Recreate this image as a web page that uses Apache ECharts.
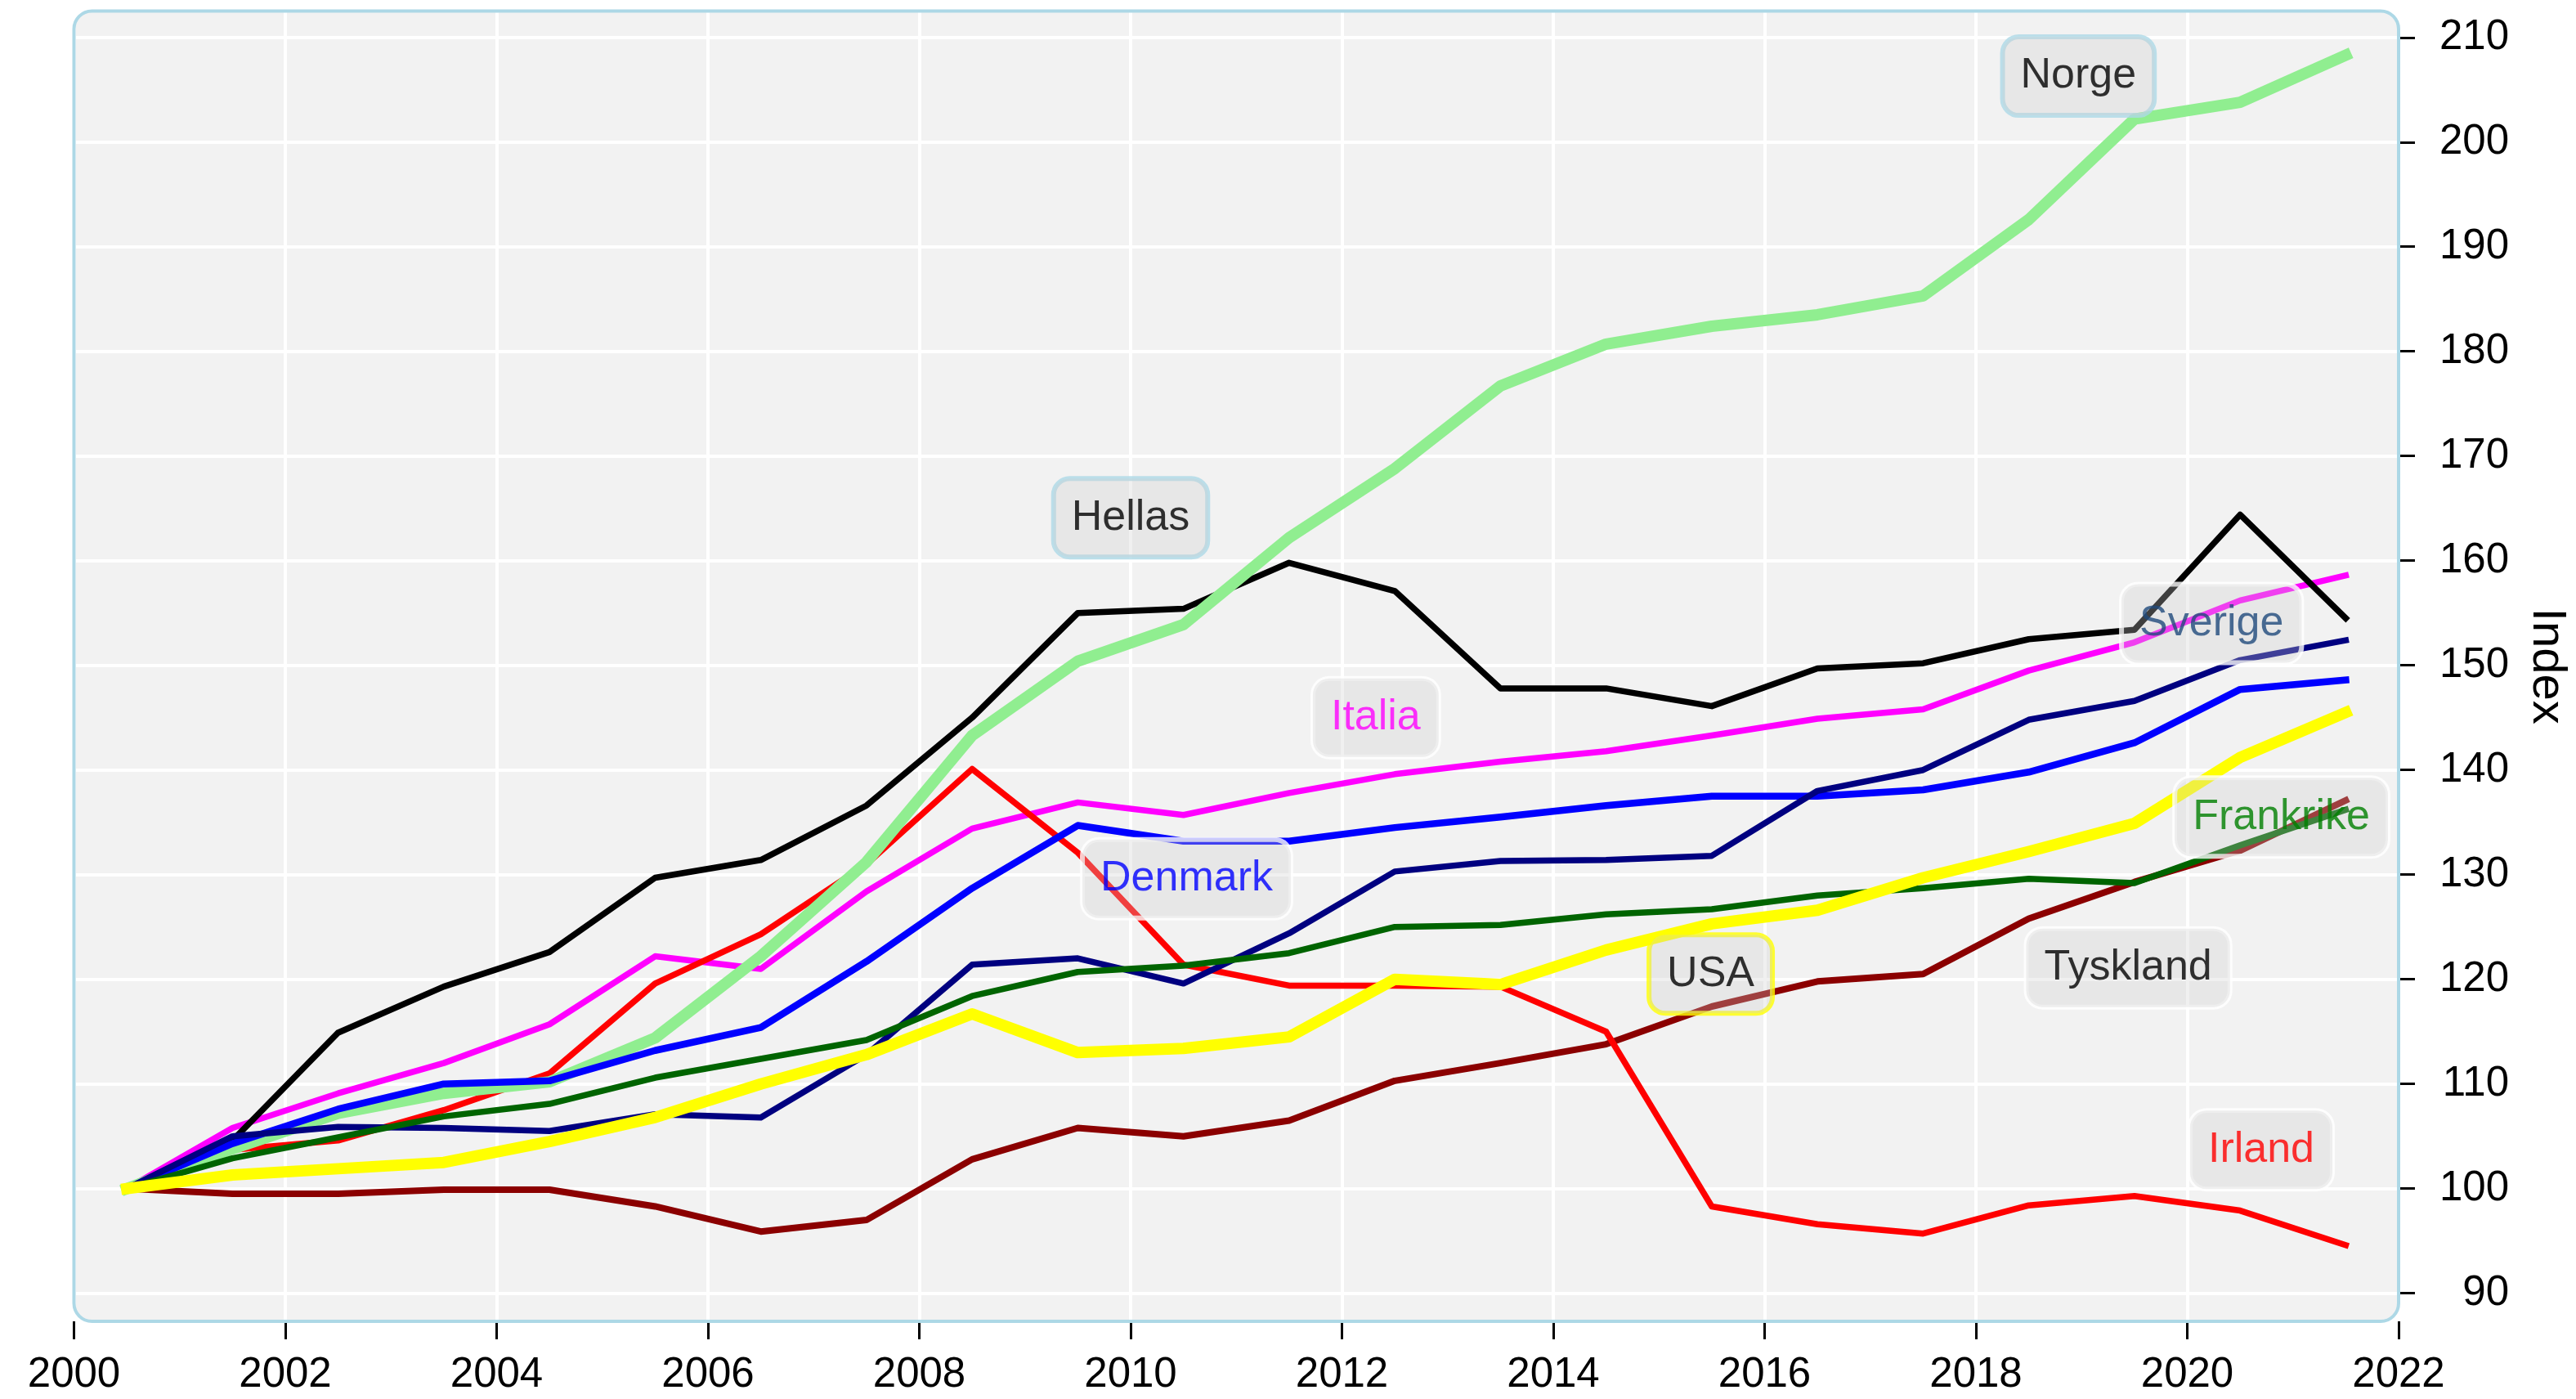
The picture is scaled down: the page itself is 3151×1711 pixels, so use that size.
<!DOCTYPE html>
<html><head><meta charset="utf-8">
<script src="https://cdn.jsdelivr.net/npm/echarts@6/dist/echarts.min.js"></script>
<style>html,body{margin:0;padding:0;background:#fff}#c{width:3151px;height:1711px}</style>
</head><body><div id="c"></div>
<script>
// ---- data ----
const years = [2000.5, 2001.5, 2002.5, 2003.5, 2004.5, 2005.5, 2006.5, 2007.5, 2008.5, 2009.5, 2010.5,
               2011.5, 2012.5, 2013.5, 2014.5, 2015.5, 2016.5, 2017.5, 2018.5, 2019.5, 2020.5, 2021.5];
const tyskland  = [100, 99.5, 99.5, 99.9, 99.9, 98.3, 95.9, 97.0, 102.8, 105.8, 105.0, 106.5, 110.3, 112.0, 113.8, 117.4, 119.8, 120.5, 125.8, 129.3, 132.3, 137.1];
const italia    = [100, 105.8, 109.1, 112.0, 115.7, 122.2, 121.0, 128.4, 134.4, 136.9, 135.7, 137.8, 139.6, 140.8, 141.8, 143.3, 144.9, 145.8, 149.5, 152.2, 156.2, 158.6];
const hellas    = [100, 104.6, 114.9, 119.3, 122.6, 129.7, 131.4, 136.6, 145.0, 155.0, 155.4, 159.8, 157.1, 147.8, 147.8, 146.1, 149.7, 150.2, 152.5, 153.4, 164.4, 154.5];
const irland    = [100, 103.7, 104.6, 107.5, 111.0, 119.6, 124.3, 131.0, 140.1, 132.1, 121.4, 119.4, 119.4, 119.3, 115.0, 98.3, 96.6, 95.7, 98.4, 99.3, 97.9, 94.6];
const norge     = [100, 103.8, 107.2, 109.1, 110.2, 114.4, 122.2, 131.2, 143.3, 150.4, 153.9, 162.2, 168.8, 176.7, 180.7, 182.4, 183.5, 185.3, 192.6, 202.2, 203.8, 208.3];
const denmark   = [100, 104.3, 107.6, 110.0, 110.3, 113.2, 115.4, 121.7, 128.7, 134.7, 133.2, 133.2, 134.5, 135.5, 136.6, 137.5, 137.5, 138.1, 139.8, 142.6, 147.7, 148.6];
const sverige   = [100, 105.0, 105.9, 105.8, 105.5, 107.1, 106.8, 112.8, 121.4, 122.0, 119.6, 124.4, 130.3, 131.3, 131.4, 131.8, 138.0, 140.0, 144.8, 146.6, 150.5, 152.4];
const frankrike = [100, 102.9, 104.9, 106.9, 108.1, 110.6, 112.4, 114.2, 118.4, 120.7, 121.3, 122.5, 125.0, 125.2, 126.2, 126.7, 128.0, 128.7, 129.6, 129.2, 132.8, 136.2];
const usa       = [100, 101.3, 101.9, 102.5, 104.5, 106.8, 110.0, 112.8, 116.7, 113.0, 113.4, 114.5, 120.0, 119.5, 122.8, 125.3, 126.6, 129.7, 132.2, 134.9, 141.2, 145.5];

const xTicks = [2000, 2002, 2004, 2006, 2008, 2010, 2012, 2014, 2016, 2018, 2020, 2022];
const yTicks = [90, 100, 110, 120, 130, 140, 150, 160, 170, 180, 190, 200, 210];

const labelNames = ['Norge', 'Hellas', 'Italia', 'Denmark', 'Sverige', 'Frankrike', 'USA', 'Tyskland', 'Irland'];
const labelX = [2018.97, 2010.0, 2012.32, 2010.53, 2020.23, 2020.89, 2015.49, 2019.44, 2020.70];
const labelY = [206.3, 164.1, 145.0, 129.6, 154.0, 135.5, 120.5, 121.1, 103.7];

// ---- styles ----
const FONT = '"Liberation Sans", Arial, Helvetica, sans-serif';
const lineDefs = [
  { name: 'Tyskland',  data: tyskland,  color: '#8b0000', width: 8 },
  { name: 'Italia',    data: italia,    color: '#ff00ff', width: 7.5 },
  { name: 'Hellas',    data: hellas,    color: '#000000', width: 7.5 },
  { name: 'Irland',    data: irland,    color: '#ff0000', width: 7.5 },
  { name: 'Norge',     data: norge,     color: '#90ee90', width: 14 },
  { name: 'Denmark',   data: denmark,   color: '#0000ff', width: 8.5 },
  { name: 'Sverige',   data: sverige,   color: '#000080', width: 7.5 },
  { name: 'Frankrike', data: frankrike, color: '#006400', width: 7.5 },
  { name: 'USA',       data: usa,       color: '#ffff00', width: 14 }
];
const labelStyle = {
  Norge:     { color: '#000000', border: '#add8e6' },
  Hellas:    { color: '#000000', border: '#add8e6' },
  Italia:    { color: '#ff00ff', border: '#ffffff' },
  Denmark:   { color: '#0000ff', border: '#ffffff' },
  Sverige:   { color: '#1f4a7c', border: '#ffffff' },
  Frankrike: { color: '#008000', border: '#ffffff' },
  USA:       { color: '#000000', border: '#ffff00' },
  Tyskland:  { color: '#000000', border: '#ffffff' },
  Irland:    { color: '#ff0000', border: '#ffffff' }
};

const G = { left: 90.5, top: 13.5, right: 217, bottom: 95 };
const W = 3151, H = 1711;
const gw = W - G.left - G.right, gh = H - G.top - G.bottom;

const chart = echarts.init(document.getElementById('c'), null, { renderer: 'canvas' });

const series = lineDefs.map(d => ({
  type: 'line',
  name: d.name,
  data: years.map((x, i) => [x, d.data[i]]),
  showSymbol: false,
  symbol: 'none',
  lineStyle: { color: d.color, width: d.width, join: 'round', cap: 'square' },
  itemStyle: { color: d.color },
  z: 3,
  silent: true
}));

series.push({
  type: 'scatter',
  z: 20,
  symbol: 'circle',
  symbolSize: 1,
  itemStyle: { color: 'rgba(0,0,0,0)' },
  silent: true,
  data: labelNames.map((n, i) => ({
    name: n,
    value: [labelX[i], labelY[i]],
    label: { color: labelStyle[n].color, borderColor: labelStyle[n].border }
  })),
  label: {
    show: true,
    position: 'inside',
    formatter: '{b}',
    fontFamily: FONT,
    fontSize: 52,
    backgroundColor: 'rgba(205,205,205,0.38)',
    borderWidth: 3,
    borderRadius: 20,
    padding: [22, 22, 22, 22]
  }
});

chart.setOption({
  animation: false,
  backgroundColor: '#ffffff',
  textStyle: { fontFamily: FONT },
  grid: { left: G.left, top: G.top, right: G.right, bottom: G.bottom, show: false, containLabel: false, outerBoundsMode: 'none' },
  graphic: [
    { type: 'rect', z: -100, silent: true,
      shape: { x: G.left, y: G.top, width: gw, height: gh, r: 22 },
      style: { fill: '#f2f2f2', stroke: null } },
    { type: 'rect', z: 100, silent: true,
      shape: { x: G.left, y: G.top, width: gw, height: gh, r: 22 },
      style: { fill: null, stroke: '#add8e6', lineWidth: 4 } }
  ],
  xAxis: {
    type: 'value',
    min: xTicks[0],
    max: xTicks[xTicks.length - 1],
    interval: 2,
    axisLine: { show: false },
    axisTick: { show: true, length: 22, lineStyle: { color: '#000', width: 3 } },
    axisLabel: { show: true, margin: 40, fontSize: 51, color: '#000', fontFamily: FONT,
                 formatter: v => String(v), hideOverlap: false },
    splitLine: { show: true, lineStyle: { color: '#ffffff', width: 4 } }
  },
  yAxis: {
    type: 'value',
    position: 'right',
    min: 87.32,
    max: 212.52,
    splitNumber: 12,
    axisLine: { show: false },
    axisTick: { show: true, length: 20, customValues: yTicks, lineStyle: { color: '#000', width: 3 } },
    axisLabel: { show: true, customValues: yTicks, align: 'right', margin: 135, fontSize: 51,
                 color: '#000', fontFamily: FONT, formatter: v => String(v), hideOverlap: false },
    splitLine: { show: true, lineStyle: { color: '#ffffff', width: 4 } },
    name: 'Index',
    nameLocation: 'middle',
    nameRotate: -90,
    nameGap: 152,
    nameTextStyle: { fontSize: 58, color: '#000', fontFamily: FONT }
  },
  series: series
});
</script>
</body></html>
